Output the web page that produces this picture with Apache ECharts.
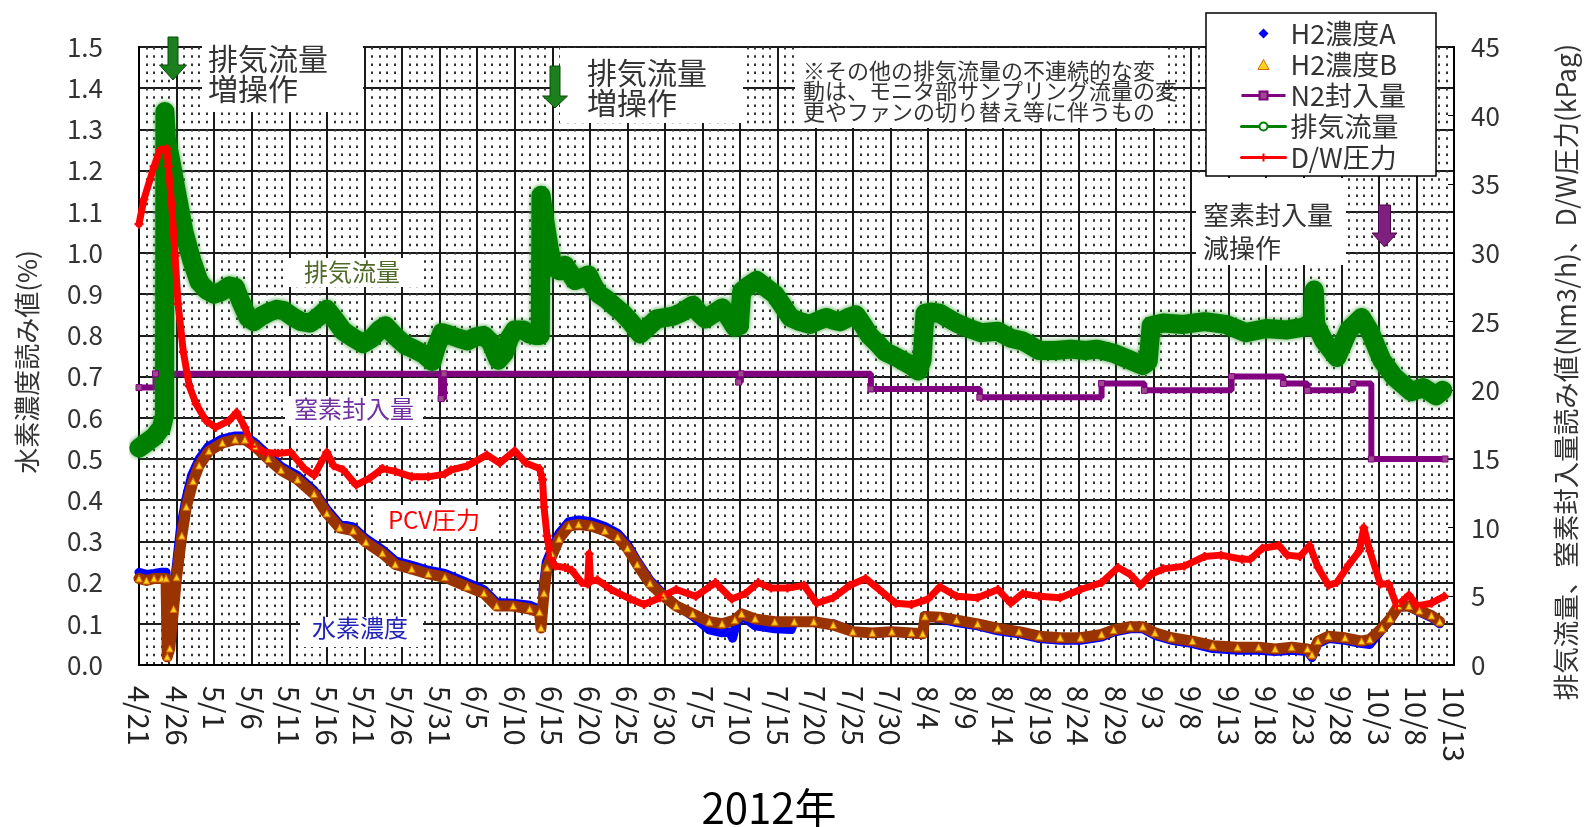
<!DOCTYPE html>
<html>
<head>
<meta charset="utf-8">
<title>水素濃度・排気流量・D/W圧力（2012年）</title>
<script src="https://cdn.jsdelivr.net/npm/echarts@6/dist/echarts.min.js"></script>
<style>
html, body { margin: 0; padding: 0; background: #fff; }
#chart { width: 1587px; height: 827px; }
</style>
</head>
<body>
<div id="chart"></div>
<script>
// x は 2012/4/21 からの経過日数
const dateLabels = ['4/21','4/26','5/1','5/6','5/11','5/16','5/21','5/26','5/31','6/5','6/10','6/15',
  '6/20','6/25','6/30','7/5','7/10','7/15','7/20','7/25','7/30','8/4','8/9','8/14','8/19','8/24',
  '8/29','9/3','9/8','9/13','9/18','9/23','9/28','10/3','10/8','10/13'];

// 水素濃度 A (%)
const h2A = [[0,0.225],[1,0.22],[2,0.222],[3,0.225],[3.6,0.225],[3.7,0.03],[4.1,0.05],[4.5,0.15],[4.9,0.23],
  [5.5,0.33],[6.2,0.4],[7,0.46],[8,0.5],[9.2,0.53],[11,0.548],[12.8,0.556],[14.1,0.556],[15.4,0.54],
  [17.2,0.51],[18.9,0.482],[21.1,0.46],[23.3,0.424],[25,0.378],[26.7,0.342],[28.5,0.335],[30.2,0.307],
  [32.4,0.28],[34.1,0.253],[36.3,0.242],[38.5,0.23],[40.7,0.222],[43.7,0.2],[45.9,0.183],[47.6,0.152],
  [49.8,0.15],[52,0.145],[53.3,0.135],[53.5,0.095],[53.8,0.19],[54.2,0.25],[55,0.285],[55.9,0.32],
  [57.2,0.348],[58.5,0.352],[60.2,0.348],[62,0.336],[63.7,0.32],[65,0.293],[66.3,0.253],[68,0.206],
  [69.8,0.172],[71.5,0.145],[73.7,0.118],[75.9,0.085],[77.6,0.078],[78.6,0.08],[79,0.065],[79.4,0.095],
  [80.2,0.12],[82,0.095],[84.6,0.088],[86.8,0.086],[87.2,0.105],[89.8,0.103],[92.4,0.1],[95,0.082],
  [97.6,0.076],[100.2,0.08],[102.8,0.076],[104.3,0.074],[104.6,0.12],[106.6,0.112],[108.8,0.103],
  [111.6,0.095],[114.3,0.083],[117.1,0.076],[119.8,0.064],[122.6,0.06],[125.3,0.06],[128.1,0.068],
  [129.7,0.08],[131.9,0.088],[133.6,0.088],[135.2,0.072],[137.4,0.06],[140.2,0.052],[142.9,0.04],
  [146.2,0.036],[149,0.036],[151.2,0.033],[153.4,0.036],[155.5,0.033],[156.1,0.018],[156.9,0.052],
  [158.3,0.064],[160.5,0.06],[162.7,0.052],[163.8,0.05],[165.4,0.085],[166.5,0.11],[167.6,0.14],
  [169,0.142],[170.4,0.128],[172,0.115],[173.1,0.1]];

// 水素濃度 B (%)
const h2B = [[0,0.21],[1,0.205],[2,0.21],[3,0.21],[3.6,0.21],[3.75,0.02],[4.1,0.04],[4.6,0.136],[5,0.213],
  [5.7,0.314],[6.3,0.384],[7.2,0.446],[8,0.484],[9.3,0.519],[11.1,0.539],[12.8,0.547],[14.1,0.547],
  [15.4,0.531],[17.2,0.5],[18.9,0.473],[21.1,0.45],[23.3,0.415],[25,0.368],[26.7,0.333],[28.5,0.326],
  [30.2,0.298],[32.4,0.271],[34.1,0.244],[36.3,0.233],[38.5,0.221],[40.7,0.213],[43.7,0.19],[45.9,0.174],
  [47.6,0.143],[49.8,0.143],[52,0.136],[53.3,0.128],[53.5,0.09],[53.9,0.174],[54.3,0.236],[55,0.267],
  [55.9,0.306],[57.2,0.337],[58.5,0.341],[60.2,0.337],[62,0.326],[63.7,0.31],[65,0.283],[66.3,0.244],
  [68,0.198],[69.8,0.167],[71.5,0.143],[73.7,0.124],[75.9,0.105],[77.6,0.1],[79.3,0.109],[80.2,0.124],
  [82,0.112],[84.6,0.105],[87.2,0.105],[89.8,0.105],[92.4,0.097],[95,0.081],[97.6,0.078],[100.2,0.081],
  [102.8,0.078],[104.3,0.076],[104.6,0.118],[106.6,0.116],[108.8,0.109],[111.6,0.1],[114.3,0.089],
  [117.1,0.081],[119.8,0.07],[122.6,0.066],[125.3,0.066],[128.1,0.074],[129.7,0.085],[131.9,0.093],
  [133.6,0.093],[135.2,0.078],[137.4,0.066],[140.2,0.058],[142.9,0.047],[146.2,0.043],[149,0.043],
  [151.2,0.039],[153.4,0.043],[155.5,0.039],[156.1,0.025],[156.9,0.058],[158.3,0.07],[160.5,0.066],
  [162.7,0.058],[163.8,0.062],[165.4,0.089],[166.5,0.112],[167.6,0.143],[169,0.143],[170.4,0.132],
  [172,0.12],[173.1,0.105]];

// N2封入量 (Nm3/h)
const n2Flow = [[0,20.2],[2.2,21.2],[40.2,19.4],[40.6,21.2],[79.8,20.6],[80.1,21.2],[97.4,20.1],
  [111.9,19.5],[128.1,20.5],[133.8,20.0],[145.4,21.0],[152.3,20.5],[155.5,20.0],[161.6,20.5],
  [164.0,15.0],[173.8,15.0]];

// 排気流量 (Nm3/h)
const exhaustFlow = [[0,15.8],[1,16.2],[2,16.6],[3,17.3],[3.4,18.2],[3.45,40.3],[3.65,38.3],[4.2,36.8],
  [5,34.4],[6,31.5],[7,29.5],[8,27.9],[9,27.3],[10,27],[11,27.2],[12,27.6],[12.8,27.5],[13.6,26.4],
  [14.5,25.3],[15.3,25],[16.3,25.4],[17.3,25.7],[18.3,25.9],[19.3,25.8],[20.6,25.3],[21.6,25],
  [22.8,24.9],[24,25.4],[25,25.9],[26,25.2],[27.2,24.3],[28.3,23.9],[29.8,23.4],[31,23.8],[32,24.4],
  [32.8,24.7],[34,24],[35.4,23.3],[36.6,23],[38,22.6],[39,22.1],[39.6,23.2],[40.3,24.2],[41.5,24],
  [42.5,23.8],[43.7,23.6],[44.8,23.9],[45.9,24],[46.8,23.5],[47.8,22.2],[48.6,22.7],[49.3,23.8],
  [50,24.4],[51.1,24.4],[52,24.1],[52.8,24],[53.4,24],[53.5,34.2],[54.1,32],[54.6,30.3],[55.1,29],
  [56,28.7],[56.7,29.1],[57.3,28.6],[58,28],[59,28.2],[59.8,28.4],[60.5,27.6],[61.2,27],[62.3,26.6],
  [63.3,26.1],[64.4,25.6],[65.4,25],[66.7,24.1],[67.7,24.6],[68.9,25.2],[70,25.3],[71.1,25.4],
  [72.3,25.7],[73.7,26.2],[74.6,25.6],[75.4,25.2],[76.5,25.6],[77.6,26],[78.5,25.3],[79.3,24.6],
  [79.9,24.7],[80.2,27.2],[81.1,27.6],[82.2,28],[83.4,27.5],[84.6,27],[85.6,26.2],[86.7,25.3],[88,25],
  [89.3,24.8],[90.5,25.1],[91.5,25.3],[92.4,25.1],[93.3,25],[94.4,25.3],[95.4,25.5],[96.3,24.8],
  [97.2,24],[98.3,23.4],[99.3,22.8],[100.5,22.5],[101.5,22.2],[102.8,21.8],[103.7,21.4],[104.2,22.2],
  [104.6,25.6],[105.5,25.7],[106.6,25.6],[107.5,25.3],[108.8,24.9],[110.5,24.5],[112.1,24.2],
  [114.3,24.3],[116,23.8],[117.6,23.6],[119.8,22.9],[122,22.9],[124,23],[126,22.9],[127.5,23],
  [129.7,22.7],[131.9,22.2],[133.6,21.8],[134.3,22.1],[134.7,24.7],[136.3,24.9],[139,24.8],[141.8,25],
  [144.6,24.8],[147.3,24.2],[150,24.5],[152.8,24.4],[155,24.6],[156.2,25],[156.4,27.3],[156.6,24.8],
  [157.7,23.6],[159.4,22.4],[161,24.4],[162.7,25.3],[163.8,24.3],[165.4,22.2],[167,21],[169.3,19.9],
  [170.9,20.2],[172.6,19.6],[173.5,20]];

// D/W圧力 (kPag)
const dwPressure = [[0,32.1],[0.65,33.9],[2,36.3],[2.8,37.5],[3.7,37.6],[3.9,36.3],[4.35,33.5],[4.8,29.8],
  [5.2,26.3],[5.9,22.8],[6.7,20.3],[7.6,19],[8.9,17.8],[10.2,17.3],[12,17.8],[13,18.4],[14.1,17.3],
  [15,15.9],[16.7,15.5],[18.5,15.4],[20.2,15.5],[22,14.3],[23.3,13.8],[25,15.5],[25.9,14.5],[27.2,14.2],
  [28.9,13.1],[30.7,13.6],[32.4,14.3],[34.1,14.1],[36.3,13.7],[38.5,13.7],[40.7,13.9],[41.5,14.2],
  [43.7,14.5],[46.3,15.3],[48,14.7],[50,15.6],[51.5,14.7],[53.3,14.3],[53.7,13.5],[53.9,11.5],
  [54.3,9.4],[54.8,7.8],[55.4,7.2],[56.7,7.1],[57.6,6.9],[58.9,6],[59.7,5.9],[59.9,8.1],[60.1,6.1],
  [61,6.2],[62.8,5.5],[65.4,4.8],[67.2,4.4],[69.3,4.9],[71.5,5.5],[74.1,5],[76.7,6],[78.9,4.8],
  [80.7,5.2],[82.4,6],[84.1,5.6],[86.3,5.6],[88.5,5.8],[90.2,4.5],[92.4,4.9],[94.6,5.8],[96.7,6.3],
  [98.5,5.5],[100.7,4.5],[102.8,4.4],[105,4.8],[106.6,5.7],[108.8,5],[111.6,4.9],[114.3,5.5],[116,4.5],
  [117.6,5.2],[119.8,5],[122.6,4.9],[125.3,5.5],[128.1,6],[130.3,7.1],[131.9,6.6],[133.3,5.8],
  [134.7,6.6],[136.3,7],[139.1,7.2],[141.8,7.9],[144,8],[146.8,7.7],[147.9,7.7],[149.5,8.5],
  [151.7,8.7],[152.8,8],[154.5,7.9],[155.8,8.7],[156.9,7.1],[158.3,5.8],[159.4,6],[161,7.3],
  [162.4,8.3],[163,10],[163.8,8.3],[165.2,5.9],[166.3,5.9],[167.4,4.3],[169,5.1],[170.1,4.3],
  [172,4.5],[173.7,5]];

const jp = '"Noto Sans CJK JP", "Noto Sans", sans-serif';
const plusPath = 'path://M3,0H5V3H8V5H5V8H3V5H0V3H3Z';

// 下向き矢印
function arrow(cx, top, headTop, tip, shaftHalf, headHalf, fill, stroke) {
  return {
    type: 'polygon', z: 100,
    shape: { points: [[cx - shaftHalf, top], [cx + shaftHalf, top], [cx + shaftHalf, headTop],
      [cx + headHalf, headTop], [cx, tip], [cx - headHalf, headTop], [cx - shaftHalf, headTop]] },
    style: { fill: fill, stroke: stroke, lineWidth: 1 }
  };
}
function box(x, y, w, h) {
  return { type: 'rect', z: 100, shape: { x: x, y: y, width: w, height: h }, style: { fill: '#fff' } };
}
function label(text, x, y, size, color, rotation) {
  return {
    type: 'text', z: 101, x: x, y: y, rotation: rotation || 0,
    style: { text: text, fontSize: size, fontFamily: jp, fill: color, align: 'center', verticalAlign: 'middle' }
  };
}
function note(text, x, y, size, lineHeight) {
  return {
    type: 'text', z: 101, x: x, y: y,
    style: { text: text, fontSize: size, fontFamily: jp, fill: '#333', align: 'left',
      verticalAlign: 'top', lineHeight: lineHeight }
  };
}

const chart = echarts.init(document.getElementById('chart'));
chart.setOption({
  animation: false,
  backgroundColor: '#fff',
  grid: { left: 139, right: 133, top: 47, bottom: 162, show: true, backgroundColor: '#fff',
    borderColor: '#000', borderWidth: 2 },
  xAxis: {
    type: 'value', min: 0, max: 175, interval: 5,
    axisLine: { show: true, lineStyle: { color: '#000', width: 2 } },
    axisTick: { show: false },
    axisLabel: { rotate: -90, fontSize: 29, color: '#222', fontFamily: jp, margin: 21,
      formatter: v => dateLabels[Math.round(v / 5)] },
    splitLine: { show: true, lineStyle: { color: '#1a1a1a', width: 2 } },
    minorTick: { show: false, splitNumber: 5 },
    minorSplitLine: { show: true, lineStyle: { color: '#333', width: 2, type: [2.5, 5.7] } }
  },
  yAxis: [
    {
      type: 'value', min: 0, max: 1.5, interval: 0.1, position: 'left',
      axisLine: { show: true, lineStyle: { color: '#000', width: 2 } },
      axisTick: { show: false },
      axisLabel: { fontSize: 26, color: '#333', fontFamily: jp, margin: 36, formatter: v => v.toFixed(1) },
      splitLine: { show: true, lineStyle: { color: '#1a1a1a', width: 2 } }
    },
    {
      type: 'value', min: 0, max: 45, interval: 5, position: 'right',
      axisLine: { show: true, lineStyle: { color: '#000', width: 2 } },
      axisTick: { show: true, inside: true, length: 6, lineStyle: { color: '#000' } },
      axisLabel: { fontSize: 26, color: '#333', fontFamily: jp, margin: 17 },
      splitLine: { show: false }
    }
  ],
  legend: {
    orient: 'vertical', left: 1206, top: 13, padding: [7, 30, 5, 34],
    itemGap: 4, itemWidth: 44, itemHeight: 10, symbolKeepAspect: true,
    backgroundColor: '#fff', borderColor: '#000', borderWidth: 1.5,
    textStyle: { fontSize: 27, color: '#333', fontFamily: jp, lineHeight: 27 },
    lineStyle: { width: 3 },
    selectedMode: false,
    data: [
      { name: 'H2濃度A', icon: 'path://M5,0L10,5L5,10L0,5Z', itemStyle: { color: '#0000ff' } },
      { name: 'H2濃度B', icon: 'path://M5,0L10,9L0,9Z',
        itemStyle: { color: '#ffd21f', borderColor: '#d96c00', borderWidth: 1 } },
      'N2封入量', '排気流量', 'D/W圧力'
    ]
  },
  series: [
    {
      name: 'H2濃度A', type: 'line', yAxisIndex: 0, data: h2A, showSymbol: false,
      itemStyle: { color: '#0000ff' },
      lineStyle: { color: '#0000ff', width: 9, join: 'round', cap: 'round' }
    },
    {
      name: 'H2濃度B', type: 'line', yAxisIndex: 0, data: h2B,
      symbol: 'triangle', symbolSize: 7,
      itemStyle: { color: '#ffd21f', borderColor: '#d96c00', borderWidth: 1 },
      lineStyle: { color: '#993300', width: 11, join: 'round', cap: 'round' }
    },
    {
      name: 'N2封入量', type: 'line', yAxisIndex: 1, data: n2Flow, step: 'end',
      symbol: 'rect', symbolSize: 6,
      itemStyle: { color: '#9c4a8c', borderColor: '#800080', borderWidth: 1 },
      lineStyle: { color: '#800080', width: 6 }
    },
    {
      name: '排気流量', type: 'line', yAxisIndex: 1, data: exhaustFlow,
      symbol: 'emptyCircle', symbolSize: 6, showSymbol: false,
      itemStyle: { color: '#008000', borderColor: '#2e9b2e', borderWidth: 1.5 },
      lineStyle: { color: '#008000', width: 19, join: 'round', cap: 'round',
        shadowColor: 'rgba(40,150,40,0.9)', shadowBlur: 5 }
    },
    {
      name: 'D/W圧力', type: 'line', yAxisIndex: 1, data: dwPressure,
      symbol: plusPath, symbolSize: 9,
      itemStyle: { color: '#ff0000' },
      lineStyle: { color: '#ff0000', width: 7, join: 'round', cap: 'round' }
    }
  ],
  graphic: { elements: [
    // 注記
    box(202, 38, 161, 74),
    note('排気流量\n増操作', 208, 44, 30, 30),
    arrow(173, 37, 65, 80, 5, 13.5, '#1b7f1b', '#0b4a0b'),
    box(560, 48, 183, 75),
    note('排気流量\n増操作', 587, 58, 30, 30),
    arrow(555, 66, 96, 108, 5, 12.5, '#1b7f1b', '#0b4a0b'),
    box(795, 48, 367, 80),
    note('※その他の排気流量の不連続的な変\n動は、モニタ部サンプリング流量の変\n更やファンの切り替え等に伴うもの', 803, 60, 22, 20.5),
    box(1196, 178, 150, 87),
    note('窒素封入量\n減操作', 1203, 199, 26, 32.5),
    arrow(1384.5, 205, 233, 247, 6, 12.5, '#7f1f7f', '#4a0a4a'),
    // 系列ラベル
    box(285, 258, 138, 29), label('排気流量', 352, 272, 24, '#4f6a28'),
    box(285, 396, 138, 30), label('窒素封入量', 354, 409, 24, '#7030a0'),
    box(373, 505, 122, 32), label('PCV圧力', 434, 520, 24, '#ff0000'),
    box(300, 617, 123, 30), label('水素濃度', 360, 628, 24, '#2424b8'),
    // 軸タイトル
    label('水素濃度読み値(%)', 27, 362, 26, '#333', Math.PI / 2),
    label('排気流量、窒素封入量読み値(Nm3/h)、D/W圧力(kPag)', 1566, 372, 26.5, '#333', Math.PI / 2),
    label('2012年', 769, 808, 42, '#000')
  ] }
});
</script>
</body>
</html>
